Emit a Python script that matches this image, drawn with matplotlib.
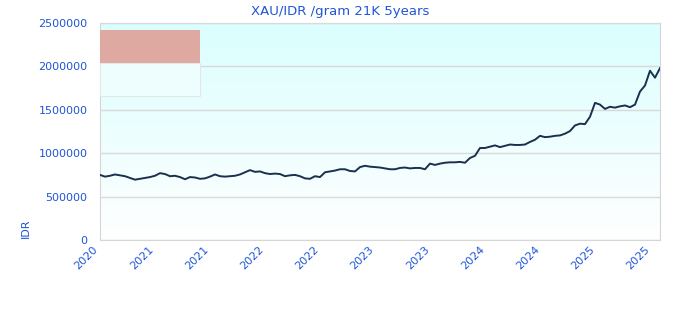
import numpy as np
import matplotlib.pyplot as plt
from matplotlib.patches import Rectangle
from matplotlib.colors import LinearSegmentedColormap

# XAU/IDR per gram, 21K (IDR, evenly spaced samples)
price = [
    750000, 730000, 740000, 755000, 745000, 735000, 715000, 695000, 705000, 715000,
    725000, 740000, 770000, 760000, 735000, 740000, 725000, 700000, 725000, 720000,
    705000, 710000, 730000, 755000, 735000, 730000, 735000, 740000, 755000, 780000,
    805000, 785000, 790000, 770000, 760000, 765000, 760000, 735000, 745000, 750000,
    735000, 710000, 705000, 735000, 725000, 780000, 790000, 800000, 815000, 815000,
    795000, 790000, 840000, 855000, 845000, 840000, 835000, 825000, 815000, 815000,
    830000, 835000, 825000, 830000, 830000, 815000, 880000, 865000, 880000, 890000,
    895000, 895000, 900000, 890000, 945000, 970000, 1060000, 1060000, 1075000, 1090000,
    1070000, 1085000, 1100000, 1095000, 1095000, 1100000, 1130000, 1155000, 1200000, 1185000,
    1190000, 1200000, 1205000, 1225000, 1255000, 1320000, 1340000, 1335000, 1420000, 1580000,
    1560000, 1510000, 1535000, 1525000, 1540000, 1550000, 1530000, 1560000, 1710000, 1780000,
    1950000, 1870000, 1980000,
]
tick_labels = ["2020", "2021", "2021", "2022", "2022", "2023",
               "2023", "2024", "2024", "2025", "2025"]
yticks = [0, 500000, 1000000, 1500000, 2000000, 2500000]

blue = "#1f55d6"
x = np.arange(len(price))

fig = plt.figure(figsize=(6.8, 3.2), dpi=100)
ax = fig.add_axes([100/680, 80/320, 560/680, 217/320])

# background gradient: light cyan at top fading to white
cmap = LinearSegmentedColormap.from_list("bg", ["#ffffff", "#dbfefe"])
grad = np.linspace(0, 1, 256).reshape(-1, 1)
ax.imshow(grad, aspect="auto", cmap=cmap, origin="lower",
          extent=[0, len(price) - 1, 0, 2500000], zorder=0)

ax.plot(x, price, color="#1b2f4e", lw=1.4, zorder=3)

ax.set_xlim(0, len(price) - 1)
ax.set_ylim(0, 2500000)
ax.set_yticks(yticks)
ax.set_yticklabels([str(v) for v in yticks])
step = (len(price) - 1) * 552 / 560 / 10
ax.set_xticks(np.arange(len(tick_labels)) * step)
ax.set_xticklabels(tick_labels, rotation=45, ha="right")
ax.tick_params(length=0, labelsize=8, colors=blue)
ax.tick_params(axis="y", pad=9)
ax.tick_params(axis="x", pad=3)
ax.grid(axis="y", color="#d9d9d9", lw=1)
ax.set_axisbelow(False)
for s in ax.spines.values():
    s.set_color("#d6d6d6")

fig.text(0.5, 1 - 11/320, "XAU/IDR /gram 21K 5years", color=blue,
         fontsize=9.5, ha="center", va="center")
ax.set_ylabel("IDR", loc="bottom", color=blue, fontsize=8)
ax.yaxis.set_label_coords(-69/560, 0.01)

# legend-like boxes in the top left corner
ax.add_patch(Rectangle((0, 1 - 40/217), 100/560, 33/217, transform=ax.transAxes,
                       facecolor="#dea9a0", edgecolor="none", zorder=4))
ax.add_patch(Rectangle((0, 1 - 73/217), 100/560, 33/217, transform=ax.transAxes,
                       facecolor="#eefefe", edgecolor="#e2e8e8", lw=0.8, zorder=4))

fig.savefig("out.png", dpi=100)
